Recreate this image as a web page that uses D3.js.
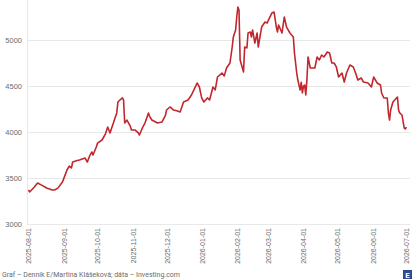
<!DOCTYPE html>
<html>
<head>
<meta charset="utf-8">
<script src="https://cdn.jsdelivr.net/npm/d3@7"></script>
<style>
  body { margin: 0; background: #fff; }
  svg { display: block; font-family: Roboto, 'Noto Sans', sans-serif; }
</style>
</head>
<body>
<svg id="chart" width="420" height="280"></svg>
<script>
// dates
const dates = [
  '2025-08-01', '2025-08-02', '2025-08-06', '2025-08-09', '2025-08-13', '2025-08-17', '2025-08-22', '2025-08-24',
  '2025-08-27', '2025-08-31', '2025-09-02', '2025-09-04', '2025-09-06', '2025-09-08', '2025-09-09', '2025-09-13',
  '2025-09-15', '2025-09-20', '2025-09-22', '2025-09-24', '2025-09-26', '2025-09-27', '2025-09-30', '2025-10-01',
  '2025-10-05', '2025-10-08', '2025-10-10', '2025-10-12', '2025-10-15', '2025-10-18', '2025-10-19', '2025-10-21',
  '2025-10-23', '2025-10-24', '2025-10-25', '2025-10-27', '2025-10-30', '2025-10-31', '2025-11-03', '2025-11-06',
  '2025-11-07', '2025-11-10', '2025-11-12', '2025-11-15', '2025-11-16', '2025-11-18', '2025-11-23', '2025-11-27',
  '2025-11-30', '2025-12-01', '2025-12-04', '2025-12-07', '2025-12-10', '2025-12-13', '2025-12-16', '2025-12-20',
  '2025-12-23', '2025-12-26', '2025-12-28', '2025-12-30', '2026-01-01', '2026-01-03', '2026-01-06', '2026-01-08',
  '2026-01-11', '2026-01-13', '2026-01-15', '2026-01-19', '2026-01-21', '2026-01-23', '2026-01-26', '2026-01-28',
  '2026-01-29', '2026-01-31', '2026-02-01', '2026-02-02', '2026-02-03', '2026-02-04', '2026-02-06', '2026-02-07',
  '2026-02-08', '2026-02-10', '2026-02-11', '2026-02-13', '2026-02-14', '2026-02-15', '2026-02-17', '2026-02-19',
  '2026-02-20', '2026-02-23', '2026-02-26', '2026-02-28', '2026-03-01', '2026-03-04', '2026-03-06', '2026-03-08',
  '2026-03-09', '2026-03-10', '2026-03-13', '2026-03-15', '2026-03-17', '2026-03-20', '2026-03-23', '2026-03-24',
  '2026-03-26', '2026-03-27', '2026-03-29', '2026-03-30', '2026-03-31', '2026-04-01', '2026-04-02', '2026-04-03',
  '2026-04-04', '2026-04-05', '2026-04-07', '2026-04-11', '2026-04-13', '2026-04-15', '2026-04-17', '2026-04-19',
  '2026-04-22', '2026-04-24', '2026-04-26', '2026-04-28', '2026-04-30', '2026-05-02', '2026-05-05', '2026-05-07',
  '2026-05-09', '2026-05-12', '2026-05-15', '2026-05-17', '2026-05-19', '2026-05-22', '2026-05-24', '2026-05-28',
  '2026-05-31', '2026-06-02', '2026-06-05', '2026-06-08', '2026-06-09', '2026-06-11', '2026-06-14', '2026-06-15',
  '2026-06-16', '2026-06-17', '2026-06-19', '2026-06-23', '2026-06-24', '2026-06-25', '2026-06-27', '2026-06-29',
  '2026-06-30', '2026-07-01'
];

const values = [
  3370, 3348, 3400, 3446, 3420, 3391, 3370, 3370,
  3390, 3457, 3520, 3587, 3630, 3610, 3674, 3690,
  3696, 3717, 3674, 3740, 3783, 3750, 3840, 3880,
  3913, 3980, 4054, 3989, 4098, 4207, 4326, 4350,
  4370, 4348, 4098, 4130, 4060, 4022, 4022, 3990,
  3967, 4054, 4100, 4207, 4170, 4130, 4098, 4109,
  4180, 4239, 4272, 4240, 4230, 4217, 4326, 4348,
  4402, 4480, 4533, 4489, 4370, 4326, 4370, 4348,
  4489, 4457, 4598, 4641, 4610, 4696, 4750, 4924,
  5033, 5109, 5250, 5359, 5326, 4783, 4696, 4652,
  4924, 4915, 5076, 5087, 5033, 5109, 4967, 5076,
  4924, 5141, 5196, 5185, 5217, 5293, 5304, 5141,
  5087, 5163, 5076, 5250, 5141, 5076, 5033, 4859,
  4641, 4565, 4457, 4540, 4424, 4500, 4511, 4402,
  4565, 4815, 4696, 4696, 4815, 4783, 4837, 4815,
  4870, 4859, 4750, 4750, 4707, 4598, 4641, 4543,
  4641, 4728, 4707, 4641, 4565, 4587, 4543, 4533,
  4489, 4598, 4533, 4511, 4424, 4370, 4370, 4207,
  4130, 4239, 4326, 4380, 4239, 4207, 4185, 4043,
  4033, 4054
];

const yTicks = [3000, 3500, 4000, 4500, 5000];
const xTicks = ['2025-08-01', '2025-09-01', '2025-10-01', '2025-11-01', '2025-12-01', '2026-01-01',
  '2026-02-01', '2026-03-01', '2026-04-01', '2026-05-01', '2026-06-01', '2026-07-01'];

const sourceText = 'Graf – Denník E/Martina Klášeková; dáta – Investing.com';

const parseDate = d3.timeParse('%Y-%m-%d');
const series = dates.map((d, i) => ({date: parseDate(d), value: values[i]}));

const svg = d3.select('#chart');
const plot = {left: 27, right: 410, bottom: 224, top: 40};

const x = d3
  .scaleTime()
  .domain([parseDate('2025-08-01'), parseDate('2026-07-01')])
  .range([28.5, 406.5]);

const y = d3
  .scaleLinear()
  .domain([3000, 5000])
  .range([plot.bottom, plot.top]);

// horizontal grid + y labels
const yAxis = d3
  .axisLeft(y)
  .tickValues(yTicks)
  .tickSize(-(plot.right - plot.left))
  .tickPadding(5)
  .tickFormat(d3.format('d'));

svg
  .append('g')
  .attr('class', 'y_axis')
  .attr('transform', 'translate(' + plot.left + ',0)')
  .call(yAxis)
  .call(g => g.select('.domain').remove())
  .call(g => g.selectAll('line').attr('stroke', '#e8e8e8'))
  .call(g => g.selectAll('text').attr('fill', '#6b6b6b').style('font-size', '7.5px'));

// left vertical rule
svg
  .append('line')
  .attr('x1', plot.left + 0.5)
  .attr('x2', plot.left + 0.5)
  .attr('y1', 0)
  .attr('y2', plot.bottom)
  .attr('stroke', '#e8e8e8');

// x labels, rotated
const xAxis = d3
  .axisBottom(x)
  .tickValues(xTicks.map(parseDate))
  .tickSize(0)
  .tickPadding(4)
  .tickFormat(d3.timeFormat('%Y-%m-%d'));

svg
  .append('g')
  .attr('class', 'x_axis')
  .attr('transform', 'translate(0,' + plot.bottom + ')')
  .call(xAxis)
  .call(g => g.select('.domain').remove())
  .call(g =>
    g
      .selectAll('text')
      .attr('fill', '#6b6b6b')
      .style('font-size', '7px')
      .attr('text-anchor', 'end')
      .attr('transform', 'rotate(-90)')
      .attr('x', -4)
      .attr('y', 0)
      .attr('dy', '0.35em')
  );

// the price line
const line = d3
  .line()
  .x(d => x(d.date))
  .y(d => y(d.value));

svg
  .append('path')
  .datum(series)
  .attr('d', line)
  .attr('fill', 'none')
  .attr('stroke', '#c1272d')
  .attr('stroke-width', 1.6)
  .attr('stroke-linejoin', 'round');

// footer
svg
  .append('text')
  .attr('x', 2)
  .attr('y', 277)
  .attr('fill', '#6b6b6b')
  .style('font-size', '7px')
  .text(sourceText);

// small logo box
const logo = svg.append('g').attr('transform', 'translate(403,270)');
logo
  .append('rect')
  .attr('width', 9)
  .attr('height', 9)
  .attr('fill', '#2c4a94');
logo
  .append('text')
  .attr('x', 4.5)
  .attr('y', 7.5)
  .attr('text-anchor', 'middle')
  .attr('fill', '#fff')
  .style('font-size', '8px')
  .style('font-weight', 'bold')
  .text('E');
</script>
</body>
</html>
